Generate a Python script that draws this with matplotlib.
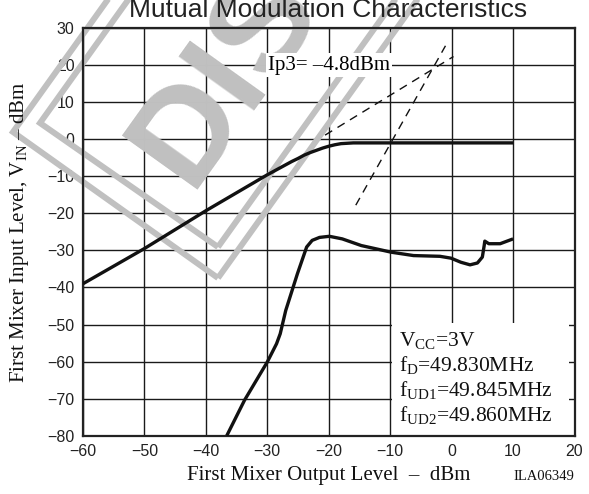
import matplotlib
matplotlib.use('Agg')
import matplotlib.pyplot as plt
import matplotlib.transforms as mtransforms
from matplotlib.patches import Polygon, Rectangle
import numpy as np

# output level (x) vs input level (y)
upper_x = [-60, -50, -40, -30, -26, -25, -24, -23, -22, -21, -20, -19, -18, -17, -16, -14, 10]
upper_y = [-39, -29.5, -19.3, -9.6, -6.0, -5.2, -4.3, -3.6, -3.0, -2.4, -1.9, -1.5, -1.2, -1.1, -1.0, -1.0, -1.0]

lower_x = [-36.6, -33.7, -30.0, -28.5, -27.9, -27.0, -25.1, -23.6, -22.7, -21.5, -19.9, -17.8,
           -14.7, -9.8, -6.2, -1.9, -0.1, 1.5, 3.0, 4.2, 5.0, 5.3, 5.4, 6.05, 7.9, 10.0]
lower_y = [-80, -70.4, -60.1, -55.2, -52.5, -46.2, -36.3, -29.1, -27.3, -26.5, -26.2, -26.9,
           -28.7, -30.5, -31.4, -31.6, -32.1, -33.2, -33.9, -33.4, -31.8, -28.7, -27.5, -28.2, -28.2, -26.9]

# asymptote extrapolations
fund_x = [-20.6, 0.3]
fund_y = [1.1, 22.3]
im3_x = [-15.6, -1.0]
im3_y = [-17.8, 25.2]

xticks = np.arange(-60, 21, 10)
yticks = np.arange(-80, 31, 10)

W, H = 589, 494
plt.rcParams['mathtext.fontset'] = 'custom'
plt.rcParams['mathtext.rm'] = 'Liberation Serif'
plt.rcParams['mathtext.it'] = 'Liberation Serif:italic'

fig = plt.figure(figsize=(W / 100, H / 100), dpi=100)
ax = fig.add_axes([83 / W, 1 - 435.7 / H, (574.5 - 83) / W, (435.7 - 28) / H])

ax.set_xlim(-60, 20)
ax.set_ylim(-80, 30)
ax.set_xticks(xticks)
ax.set_yticks(yticks)
ax.set_axisbelow(True)
ax.grid(True, color='#1a1a1a', lw=1.0)
ax.tick_params(length=0, pad=6, labelsize=11.5, labelcolor='#222222')
for lab in ax.get_xticklabels() + ax.get_yticklabels():
    lab.set_fontfamily('Liberation Sans')
for sp in ax.spines.values():
    sp.set_linewidth(1.6)
    sp.set_color('#222222')
    sp.set_zorder(4)

ax.plot(upper_x, upper_y, color='#111111', lw=2.4, zorder=5, solid_capstyle='butt')
ax.plot(lower_x, lower_y, color='#111111', lw=2.4, zorder=5, solid_capstyle='butt')
ax.plot(fund_x, fund_y, color='#111111', lw=1.0, ls=(0, (6, 4.5)), zorder=5)
ax.plot(im3_x, im3_y, color='#111111', lw=1.0, ls=(0, (6, 4.5)), zorder=5)

ax.text(-20, 20, 'Ip3= \u20134.8dBm', family='Liberation Serif', fontsize=15,
        ha='center', va='center', zorder=6,
        bbox=dict(fc='white', ec='none', pad=1.5))

ax.add_patch(Rectangle((-9.7, -80), 28.8, 30.5, fc='white', ec='none', zorder=3))
cond = ('V$_\\mathrm{CC}$=3V\n'
        'f$_\\mathrm{D}$=49.830MHz\n'
        'f$_\\mathrm{UD1}$=49.845MHz\n'
        'f$_\\mathrm{UD2}$=49.860MHz')
ax.text(-8.6, -51.5, cond, family='Liberation Serif', fontsize=15.5, linespacing=1.17,
        ha='left', va='top', zorder=6, color='#111111')

# watermark, drawn in image pixel coords (y down)
img = mtransforms.Affine2D().scale(1, -1).translate(0, H)
ang = np.deg2rad(54.4)
u = np.array([np.cos(ang), -np.sin(ang)])
for B, L in [((218, 278), (13, 132)), ((218, 247), (40, 123))]:
    B = np.array(B, float)
    L = np.array(L, float)
    pts = [B, L, L + 600 * u, B + 600 * u]
    ax.add_patch(Polygon(pts, closed=True, fill=False, ec='#c0c0c0', lw=4.3,
                         joinstyle='miter', transform=img, clip_on=False, zorder=2))
org = np.array([195.0, 180.0]) - 11 * u
ax.text(org[0], org[1], 'DIS', transform=img, rotation=54.4, rotation_mode='anchor',
        ha='left', va='baseline', fontsize=98, fontweight='bold',
        family='Liberation Sans', color='#c0c0c0', zorder=2, clip_on=False)

fig.text(328.5 / W, 1 - 17 / H, 'Mutual Modulation Characteristics',
         family='Liberation Sans', fontsize=19, color='#222222',
         ha='center', va='baseline')
fig.text(329 / W, 1 - 480 / H, 'First Mixer Output Level  \u2013  dBm',
         family='Liberation Serif', fontsize=15, color='#111111',
         ha='center', va='baseline')
fig.text(574 / W, 1 - 480 / H, 'ILA06349', family='Liberation Serif',
         fontsize=10.5, color='#111111', ha='right', va='baseline')
fig.text(20 / W, 1 - 232 / H, 'First Mixer Input Level, V$_\\mathrm{IN}$ \u2013 dBm',
         family='Liberation Serif', fontsize=15, color='#111111',
         rotation=90, ha='center', va='center')

fig.savefig('out.png', dpi=100)
